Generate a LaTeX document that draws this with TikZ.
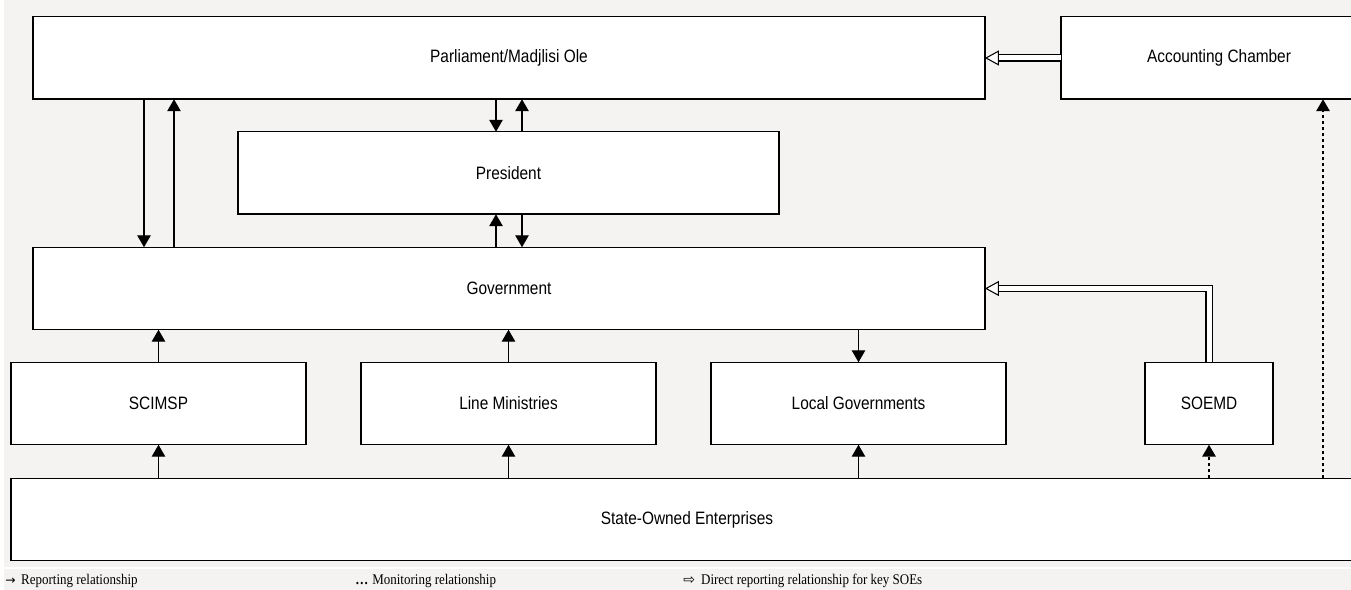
\documentclass[tikz,border=0pt]{standalone}
\usepackage{fontspec}
\setmainfont{Liberation Sans}[FakeStretch=0.86]
\newfontfamily\legfont{Liberation Serif}[FakeStretch=0.88]
\newfontfamily\symfont{DejaVu Sans}
\usetikzlibrary{arrows.meta}
\definecolor{bggray}{HTML}{F4F3F1}
\tikzset{
  box/.style={draw=black,fill=white,line width=0.85pt,inner sep=0pt,outer sep=0pt,minimum height=1.65cm,font=\fontsize{10.2}{12}\selectfont},
  rep/.style={line width=0.75pt,-{Triangle[length=0.24cm,width=0.27cm]}},
  mon/.style={line width=0.9pt,dash pattern=on 0.06cm off 0.06cm,-{Triangle[length=0.24cm,width=0.27cm]}},
  direct/.style={double=white,double distance=0.1cm,line width=0.6pt,line join=miter,-{Triangle[open,fill=white,length=0.28cm,width=0.3cm]}},
  legend/.style={anchor=west,inner sep=0pt,font=\legfont\fontsize{8.4}{10}\selectfont}
}
\begin{document}
\begin{tikzpicture}[x=0.02cm,y=-0.02cm]
\useasboundingbox (0,0) rectangle (1351,590);
\fill[bggray] (4,0) rectangle (1351,590);
\draw[white,line width=0.6pt] (4,568) -- (1351,568);

\node[box,minimum width=19.04cm] (parl) at (509,58) {Parliament/Madjlisi Ole};
\node[box,minimum width=6.32cm] (acct) at (1219,58) {Accounting Chamber};
\node[box,minimum width=10.82cm] (pres) at (508.5,173) {President};
\node[box,minimum width=19.04cm] (gov) at (509,288.5) {Government};
\node[box,minimum width=5.9cm] (scimsp) at (158.5,403.5) {SCIMSP};
\node[box,minimum width=5.9cm] (line) at (508.5,403.5) {Line Ministries};
\node[box,minimum width=5.9cm] (local) at (858.5,403.5) {Local Governments};
\node[box,minimum width=2.56cm] (soemd) at (1209,403.5) {SOEMD};
\node[box,minimum width=27.32cm] (soe) at (694,519.5) {\hspace{-0.28cm}State-Owned Enterprises};

\draw[rep] (144,0 |- parl.south) -- (144,0 |- gov.north);
\draw[rep] (174,0 |- gov.north) -- (174,0 |- parl.south);
\draw[rep] (496,0 |- parl.south) -- (496,0 |- pres.north);
\draw[rep] (522,0 |- pres.north) -- (522,0 |- parl.south);
\draw[rep] (496,0 |- gov.north) -- (496,0 |- pres.south);
\draw[rep] (522,0 |- pres.south) -- (522,0 |- gov.north);
\draw[rep] (scimsp.north) -- (scimsp.north |- gov.south);
\draw[rep] (line.north) -- (line.north |- gov.south);
\draw[rep] (local.north |- gov.south) -- (local.north);
\draw[rep] (scimsp.south |- soe.north) -- (scimsp.south);
\draw[rep] (line.south |- soe.north) -- (line.south);
\draw[rep] (local.south |- soe.north) -- (local.south);
\draw[mon] (soemd.south |- soe.north) -- (soemd.south);
\draw[mon] (1323,0 |- soe.north) -- (1323,0 |- acct.south);
\draw[direct] (soemd.north) |- (gov.east);
\draw[direct] (acct.west) -- (parl.east);

\node[legend] (legrep) at (5,581) {{\symfont\fontsize{7}{8}\selectfont →}\hspace{1.1mm}Reporting relationship};
\node[legend] (legmon) at (355,581) {{\bfseries …}\hspace{0.8mm}Monitoring relationship};
\node[legend] (legdir) at (683,581) {{\symfont\fontsize{8}{9}\selectfont ⇨}\hspace{1.2mm}Direct reporting relationship for key SOEs};
\end{tikzpicture}
\end{document}
